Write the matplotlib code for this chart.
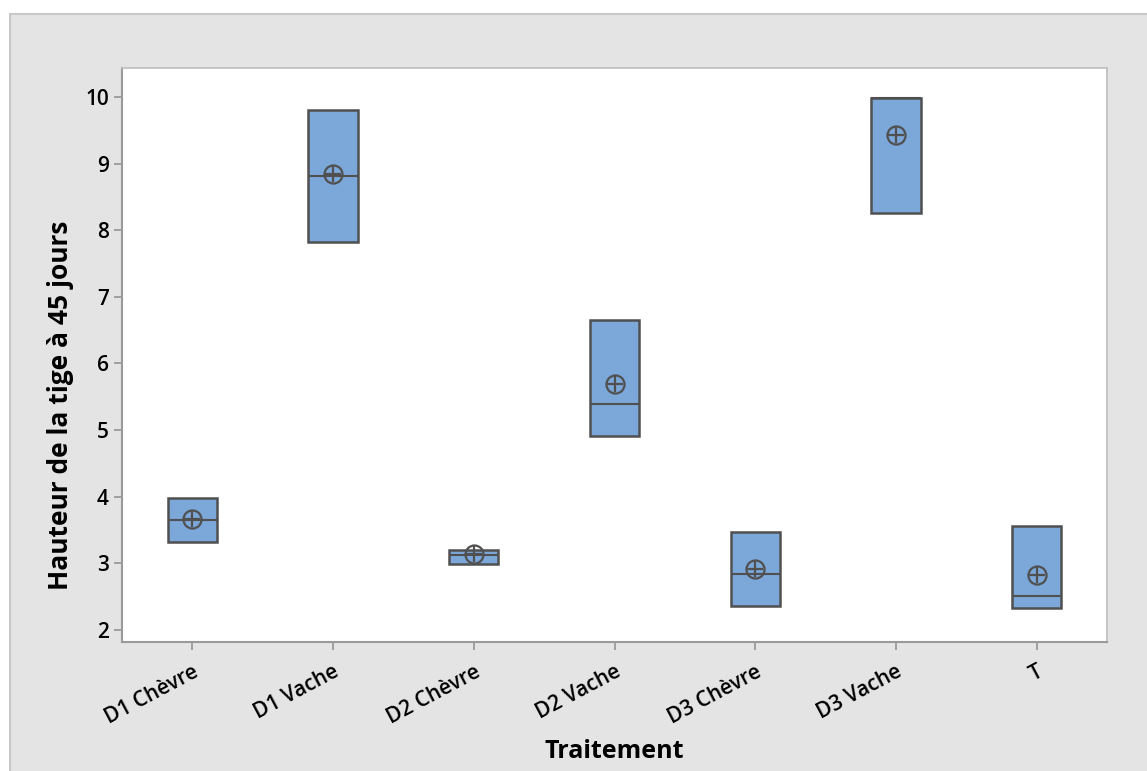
import matplotlib
matplotlib.use("Agg")
import matplotlib.pyplot as plt
from matplotlib.patches import Rectangle

categories = ["D1 Chèvre", "D1 Vache", "D2 Chèvre", "D2 Vache", "D3 Chèvre", "D3 Vache", "T"]
q1 = [3.32, 7.83, 2.99, 4.91, 2.36, 8.26, 2.33]
q3 = [3.98, 9.81, 3.20, 6.65, 3.47, 9.99, 3.56]
medians = [3.65, 8.82, 3.13, 5.39, 2.84, 9.99, 2.51]
means = [3.66, 8.84, 3.14, 5.69, 2.92, 9.43, 2.83]
yticks = [2, 3, 4, 5, 6, 7, 8, 9, 10]

plt.rcParams['font.family'] = ['Open Sans', 'DejaVu Sans']

W, H = 1147, 771
fig = plt.figure(figsize=(W / 100, H / 100), dpi=100)
fig.patch.set_facecolor('white')
bg = Rectangle((10 / W, -0.05), 1.1, 1 - 14 / H + 0.05, transform=fig.transFigure,
               facecolor='#e4e4e4', edgecolor='#c8c8c8', linewidth=1.5, zorder=-10)
fig.patches.append(bg)

ax = fig.add_axes([122 / W, 1 - 642 / H, (1107 - 122) / W, (642 - 68) / H])
ax.set_zorder(5)
ax.set_facecolor('white')

stats = []
for i, c in enumerate(categories):
    stats.append(dict(label=c, q1=q1[i], q3=q3[i], med=medians[i], mean=means[i],
                      whislo=q1[i], whishi=q3[i], fliers=[]))
pos = list(range(1, len(categories) + 1))
ax.bxp(stats, positions=pos, widths=0.35, patch_artist=True, showmeans=False,
       showcaps=False,
       boxprops=dict(facecolor='#7ba7d9', edgecolor='#505050', linewidth=1.8),
       medianprops=dict(color='#505050', linewidth=1.5),
       whiskerprops=dict(color='#505050', linewidth=0))
ax.plot(pos, means, linestyle='none', marker='o', markersize=13, markerfacecolor='none',
        markeredgecolor='#505050', markeredgewidth=1.6, zorder=5)
ax.plot(pos, means, linestyle='none', marker='+', markersize=11, markeredgecolor='#505050',
        markeredgewidth=1.6, zorder=5)

ax.set_xlim(0.5, 7.5)
ax.set_ylim(1.82, 10.435)
ax.set_yticks(yticks)
ax.set_yticklabels([str(v) for v in yticks], fontsize=15, fontweight='semibold')
ax.set_xticks(pos)
ax.set_xticklabels(categories, rotation=28, ha='right', rotation_mode='anchor', fontsize=15,
                   fontweight='semibold')

for s in ['top', 'right']:
    ax.spines[s].set_color('#bdbdbd')
    ax.spines[s].set_linewidth(1.2)
for s in ['left', 'bottom']:
    ax.spines[s].set_color('#9a9a9a')
    ax.spines[s].set_linewidth(1.5)
ax.tick_params(axis='both', direction='out', color='#9a9a9a', width=1.3, length=6, labelcolor='black')
ax.tick_params(axis='x', pad=8)

ax.set_ylabel("Hauteur de la tige à 45 jours", fontsize=19, fontweight='bold', labelpad=12)
ax.yaxis.set_label_coords(-0.049, 0.413)
ax.set_xlabel("Traitement", fontsize=18, fontweight='bold', labelpad=8)

fig.savefig("out.png", dpi=100)
